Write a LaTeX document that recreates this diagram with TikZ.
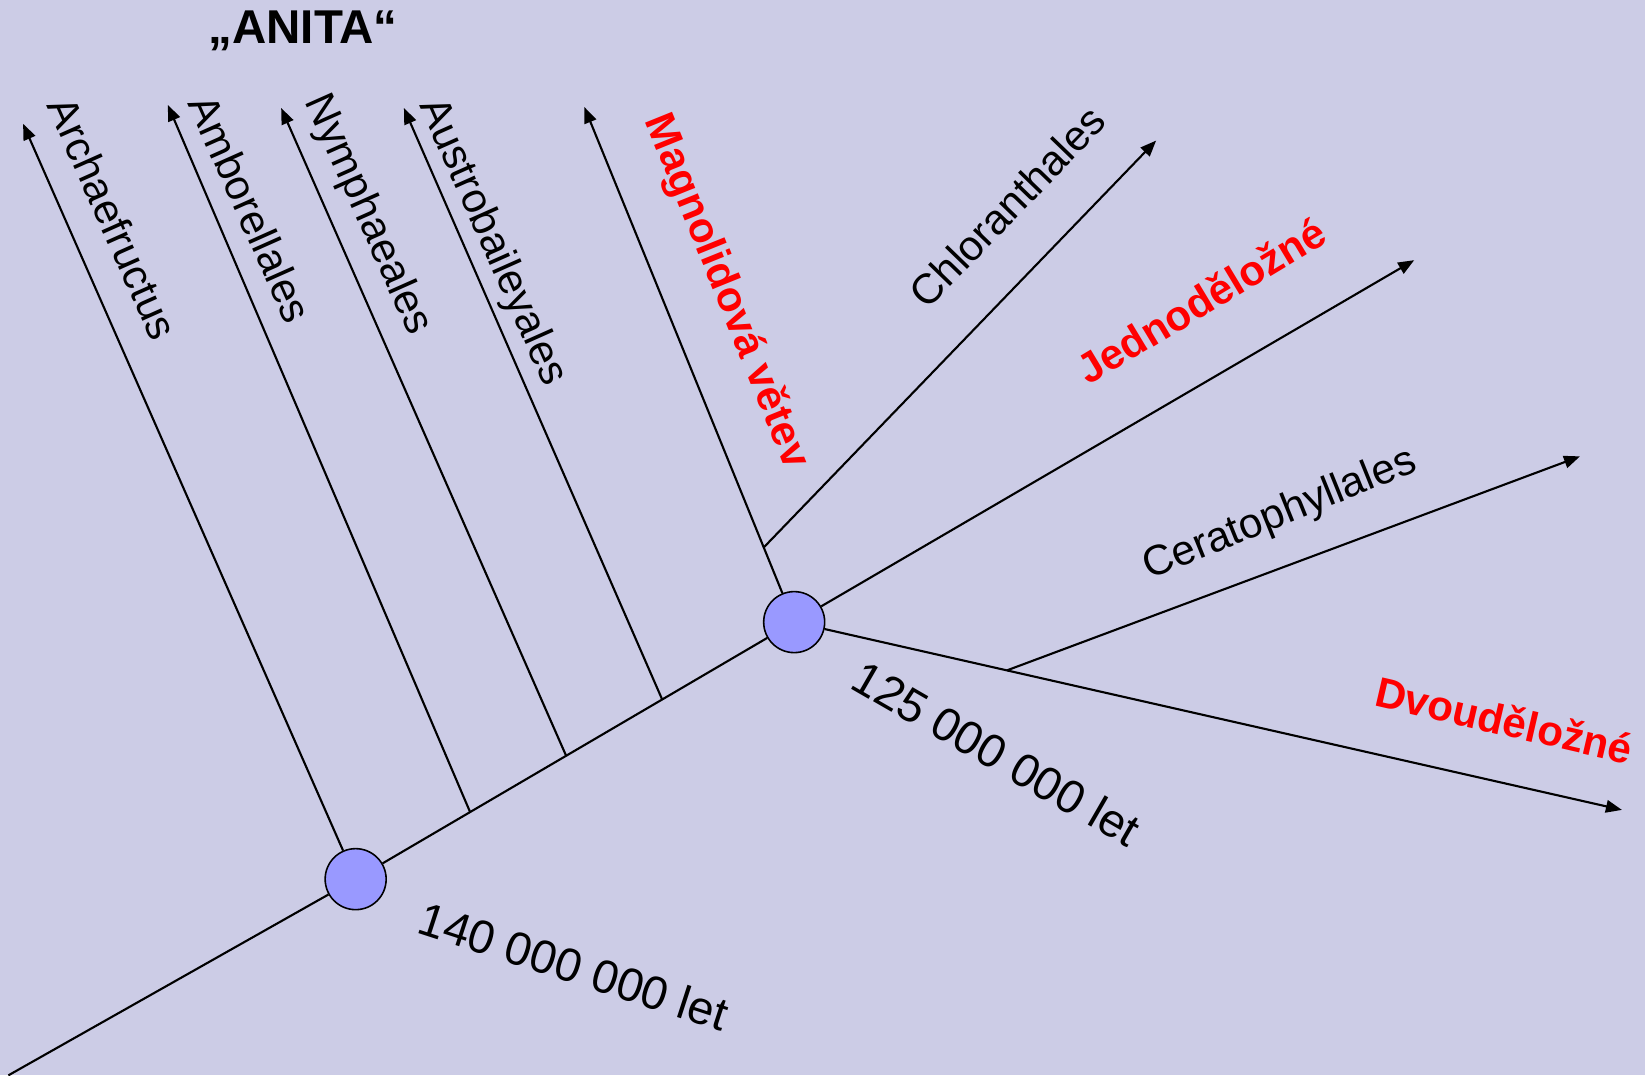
\documentclass[tikz,border=0pt]{standalone}
\usepackage{fontspec}
\setmainfont{Liberation Sans}
\usetikzlibrary{arrows.meta,calc}
\definecolor{SlideBg}{HTML}{CCCCE6}
\definecolor{NodeBlue}{HTML}{9999FF}
\definecolor{CladeRed}{HTML}{FF0000}

\begin{document}
\begin{tikzpicture}[x=0.02098cm, y=-0.02098cm,
    branch/.style={draw=black, line width=1.2pt},
    tip/.style={branch, -{Triangle[length=3.2mm, width=2.5mm]}},
    divnode/.style={circle, draw=black, line width=0.9pt, fill=NodeBlue, minimum size=1.22cm, inner sep=0pt},
    clade/.style={font=\fontsize{24}{29}\selectfont, inner sep=0pt},
    mainclade/.style={font=\fontsize{24}{29}\selectfont\bfseries, text=CladeRed, inner sep=0pt},
    agelab/.style={font=\fontsize{26.6}{32}\selectfont, inner sep=0pt}
  ]
    \fill[SlideBg] (0,0) rectangle (1568,1025);
    \useasboundingbox (0,0) rectangle (1568,1025);

    \node[divnode] (n140) at (339,838) {};
    \node[divnode] (n125) at (757,593) {};

    \coordinate (root) at (8,1025);
    \coordinate (archtip) at (22,118);
    \coordinate (ambtip) at (160,100);
    \coordinate (nymtip) at (268,103);
    \coordinate (austip) at (385,103);
    \coordinate (magtip) at (557,102);
    \coordinate (chltip) at (1102,134);
    \coordinate (montip) at (1348,248);
    \coordinate (certip) at (1506,435);
    \coordinate (dictip) at (1546,772);

    \coordinate (ambbase) at ($(n140)!0.261!(n125)$);
    \coordinate (nymbase) at ($(n140)!0.48!(n125)$);
    \coordinate (ausbase) at ($(n140)!0.699!(n125)$);
    \coordinate (chlbase) at ($(n125)!0.145!(magtip)$);
    \coordinate (cerbase) at ($(n125)!0.257!(dictip)$);

    \draw[branch] (root) -- (n140);
    \draw[branch] (n140) -- (n125);
    \draw[tip] (n140) -- (archtip);
    \draw[tip] (ambbase) -- (ambtip);
    \draw[tip] (nymbase) -- (nymtip);
    \draw[tip] (ausbase) -- (austip);
    \draw[tip] (n125) -- (magtip);
    \draw[tip] (chlbase) -- (chltip);
    \draw[tip] (n125) -- (montip);
    \draw[tip] (n125) -- (dictip);
    \draw[tip] (cerbase) -- (certip);

    \node[font=\fontsize{27}{32}\selectfont\bfseries, inner sep=0pt, anchor=base] (anita) at (289,41) {„ANITA“};
    \node[clade, rotate=-66] (archlab) at (108,208) {Archaefructus};
    \node[clade, rotate=-66] (amblab) at (239,199) {Amborellales};
    \node[clade, rotate=-66] (nymlab) at (350,205) {Nymphaeales};
    \node[clade, rotate=-66] (auslab) at (469,231) {Austrobaileyales};
    \node[mainclade, rotate=-68] (maglab) at (692,278) {Magnolidová větev};
    \node[clade, rotate=46] (chllab) at (960,197) {Chloranthales};
    \node[mainclade, rotate=31] (monlab) at (1145,286) {Jednoděložné};
    \node[clade, rotate=22] (cerlab) at (1220,491) {Ceratophyllales};
    \node[mainclade, rotate=-13] (diclab) at (1434,686) {Dvouděložné};
    \node[agelab, rotate=-30] (age125) at (950,718) {125 000 000 let};
    \node[agelab, rotate=-18] (age140) at (547,921) {140 000 000 let};
\end{tikzpicture}
\end{document}
